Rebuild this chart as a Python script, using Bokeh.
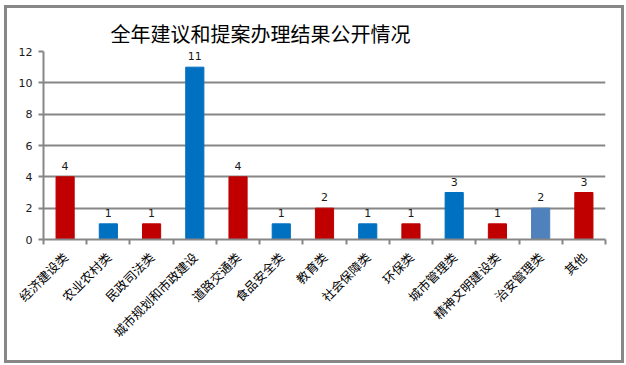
import math
from bokeh.plotting import figure
from bokeh.models import ColumnDataSource, LabelSet, FixedTicker, Range1d
from bokeh.core.properties import value
from bokeh.embed import file_html
from bokeh.resources import INLINE

title_text = "全年建议和提案办理结果公开情况"
categories = ["经济建设类", "农业农村类", "民政司法类", "城市规划和市政建设", "道路交通类",
              "食品安全类", "教育类", "社会保障类", "环保类", "城市管理类",
              "精神文明建设类", "治安管理类", "其他"]
values = [4, 1, 1, 11, 4, 1, 2, 1, 1, 3, 1, 2, 3]
colors = ["#C00000", "#0070C0", "#C00000", "#0070C0", "#C00000", "#0070C0", "#C00000",
          "#0070C0", "#C00000", "#0070C0", "#C00000", "#4F81BD", "#C00000"]
y_ticks = [0, 2, 4, 6, 8, 10, 12]

n = len(categories)
xs = [i + 0.5 for i in range(n)]
src = ColumnDataSource(dict(x=xs, top=values, color=colors, cat=categories,
                            lbl=[str(v) for v in values]))

GRAY = "#868686"
p = figure(width=620, height=358, output_backend="svg", toolbar_location=None,
           x_range=Range1d(0, n), y_range=Range1d(0, 12),
           min_border_left=36, min_border_right=22, min_border_top=43, min_border_bottom=127,
           background_fill_color="white", border_fill_color="white")
p.styles = {"border": "3px solid #878787", "transform": "translate(4px, 5px)"}
p.outline_line_color = None

p.title.text = title_text
p.title.text_font = "Noto Sans CJK SC"
p.title.text_font_size = "20px"
p.title.text_font_style = "normal"
p.title.text_color = "black"
p.title.align = "left"
p.title.offset = 67
p.title.standoff = 8

p.vbar(x="x", top="top", width=0.42, color="color", source=src)

# grid
p.xgrid.visible = False
p.ygrid.ticker = FixedTicker(ticks=y_ticks)
p.ygrid.grid_line_color = GRAY
p.ygrid.grid_line_width = 2

# y axis
p.yaxis.ticker = FixedTicker(ticks=y_ticks)
p.yaxis.axis_line_color = GRAY
p.yaxis.axis_line_width = 2
p.yaxis.major_tick_line_color = GRAY
p.yaxis.major_tick_line_width = 2
p.yaxis.major_tick_out = 5
p.yaxis.major_tick_in = 0
p.yaxis.minor_tick_line_color = None
p.yaxis.major_label_text_font = "DejaVu Sans"
p.yaxis.major_label_text_font_size = "11px"
p.yaxis.major_label_text_color = "#1a1a1a"
p.yaxis.major_label_standoff = 6

# x axis: labels at category centres (major), ticks at boundaries (minor)
p.xaxis.ticker = FixedTicker(ticks=xs, minor_ticks=list(range(n + 1)))
p.xaxis.major_label_overrides = {x: c for x, c in zip(xs, categories)}
p.xaxis.major_label_orientation = math.pi / 4
p.xaxis.axis_line_color = GRAY
p.xaxis.axis_line_width = 2
p.xaxis.major_tick_line_color = None
p.xaxis.major_tick_out = 0
p.xaxis.major_tick_in = 0
p.xaxis.minor_tick_line_color = GRAY
p.xaxis.minor_tick_line_width = 2
p.xaxis.minor_tick_out = 5
p.xaxis.minor_tick_in = 0
p.xaxis.major_label_standoff = 10
p.xaxis.major_label_text_font = "Noto Sans CJK SC"
p.xaxis.major_label_text_font_size = "12.5px"
p.xaxis.major_label_text_color = "black"

val_labels = LabelSet(x="x", y="top", text="lbl", source=src, text_align="center",
                      text_baseline="bottom", y_offset=7, text_font=value("DejaVu Sans"),
                      text_font_size=value("11px"), text_color="#1a1a1a")
p.add_layout(val_labels)

open("out.html", "w").write(file_html(p, INLINE))
